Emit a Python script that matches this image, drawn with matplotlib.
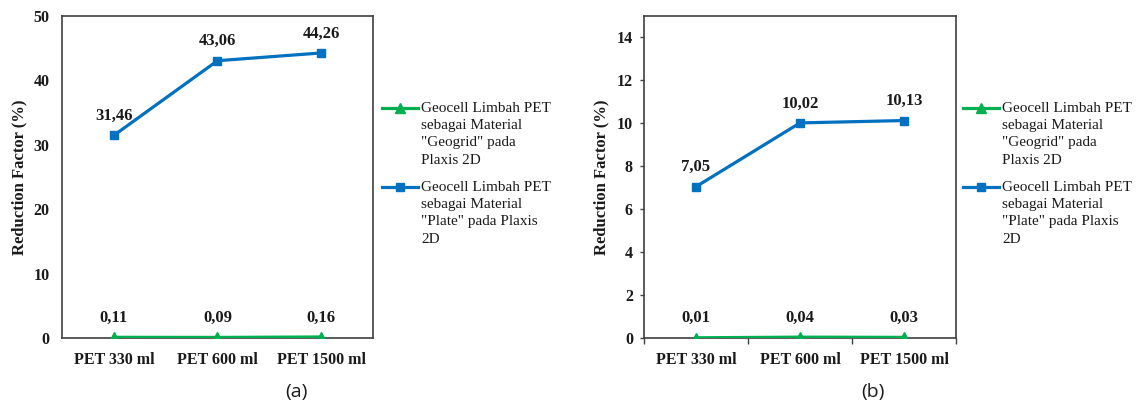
import matplotlib
matplotlib.use("Agg")
import matplotlib.pyplot as plt
from matplotlib.lines import Line2D

# Data
categories = ["PET 330 ml", "PET 600 ml", "PET 1500 ml"]
geogrid_a = [0.11, 0.09, 0.16]
plate_a = [31.46, 43.06, 44.26]
geogrid_b = [0.01, 0.04, 0.03]
plate_b = [7.05, 10.02, 10.13]

legend_geogrid = 'Geocell Limbah PET\nsebagai Material\n"Geogrid" pada\nPlaxis 2D'
legend_plate = 'Geocell Limbah PET\nsebagai Material\n"Plate" pada Plaxis\n2D'

BLUE = "#0070C0"
GREEN = "#00B050"
SPINE = "#404040"
SERIF = "Liberation Serif"

W, H = 1145, 405
fig = plt.figure(figsize=(W / 100, H / 100), dpi=100)


def px_rect(x0, y0, x1, y1):
    return [x0 / W, 1 - y1 / H, (x1 - x0) / W, (y1 - y0) / H]


def fmt(v):
    return f"{v:.2f}".replace(".", ",")


def panel(rect, geo, plate, ymax, ystep, show_ticks, legend_x, caption, cap_x):
    ax = fig.add_axes(px_rect(*rect))
    x = range(len(categories))
    ax.plot(x, geo, color=GREEN, lw=2.3, marker="^", ms=7, zorder=3)
    ax.plot(x, plate, color=BLUE, lw=2.3, marker="s", ms=6, zorder=3)
    for series in (geo, plate):
        for xi, v in zip(x, series):
            ax.annotate(fmt(v), (xi, v), xytext=(0, 14), textcoords="offset points",
                        ha="center", va="center", fontsize=12, fontweight="bold",
                        family=SERIF, color="#1a1a1a")
    ax.set_xlim(-0.5, len(categories) - 0.5)
    ax.set_ylim(0, ymax)
    ax.set_yticks([t for t in range(0, int(ymax) + 1, ystep)])
    ax.set_xticks(list(x))
    ax.set_xticklabels(categories)
    for s in ax.spines.values():
        s.set_color(SPINE)
        s.set_linewidth(1.2)
    if show_ticks:
        ax.tick_params(axis="y", length=3, width=1, color=SPINE, pad=5, direction="out")
        ax.tick_params(axis="x", which="major", length=0, pad=10)
        ax.set_xticks([-0.5, 0.5, 1.5, 2.5], minor=True)
        ax.tick_params(axis="x", which="minor", length=4, width=1, color=SPINE, direction="out")
    else:
        ax.tick_params(axis="y", length=0, pad=9)
        ax.tick_params(axis="x", length=0, pad=10)
    for lab in ax.get_xticklabels() + ax.get_yticklabels():
        lab.set_fontfamily(SERIF)
        lab.set_fontweight("bold")
        lab.set_fontsize(11.5)
        lab.set_color("#1a1a1a")
    ax.set_ylabel("Reduction Factor (%)", fontfamily=SERIF, fontweight="bold",
                  fontsize=12, color="#1a1a1a")

    # Legend drawn beside the plot box, marker aligned with the first text line
    for color, marker, ms, label, y in [(GREEN, "^", 7, legend_geogrid, 108),
                                         (BLUE, "s", 6, legend_plate, 187)]:
        fig.add_artist(Line2D([legend_x / W, (legend_x + 36) / W], [1 - y / H] * 2,
                              color=color, lw=2.3, transform=fig.transFigure))
        fig.add_artist(Line2D([(legend_x + 18) / W], [1 - y / H], color=color,
                              marker=marker, ms=ms, lw=0, transform=fig.transFigure))
        fig.text((legend_x + 39) / W, 1 - (y - 6) / H, label, ha="left", va="top",
                 fontsize=11, family=SERIF, color="#1a1a1a", linespacing=1.42)

    fig.text(cap_x / W, 1 - 392 / H, caption, ha="center", va="center",
             fontsize=14, family="Open Sans", color="#1a1a1a")
    return ax


ax_a = panel((62, 16, 373, 338), geogrid_a, plate_a, 50, 10, False, 382, "(a)", 296)
ax_b = panel((644, 16, 956, 338), geogrid_b, plate_b, 15, 2, True, 963, "(b)", 873)
ax_a.yaxis.set_label_coords(-0.112, 0.5)
ax_b.yaxis.set_label_coords(-0.112, 0.5)

fig.savefig("out.png", dpi=100, facecolor="white")
